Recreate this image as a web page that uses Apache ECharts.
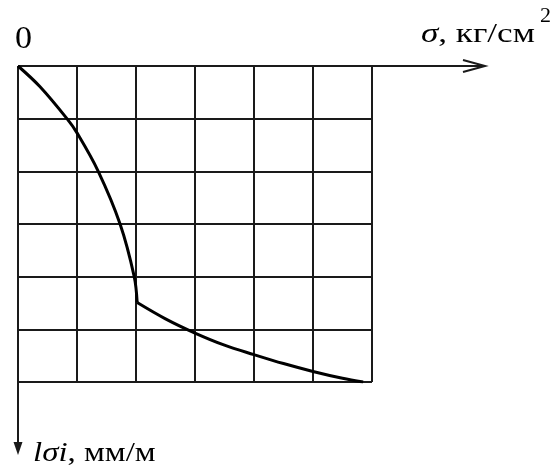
<!DOCTYPE html>
<html><head><meta charset="utf-8">
<script src="https://cdn.jsdelivr.net/npm/echarts@6/dist/echarts.min.js"></script>
<style>html,body{margin:0;padding:0;background:#fff}#c{width:555px;height:472px}</style>
</head><body><div id="c"></div>
<script>
// axis ranges (grid cells)
const xTicks = [0, 1, 2, 3, 4, 5, 6];
const yTicks = [0, 1, 2, 3, 4, 5, 6];
// upper (steep) branch of the curve
const branch1X = [0, 0.37, 0.83, 1, 1.36, 1.73, 1.97, 2.02];
const branch1Y = [0, 0.39, 1, 1.27, 2, 3, 4, 4.49];
// lower (flat) branch of the curve
const branch2X = [2.02, 2.5, 3, 3.5, 4, 4.5, 5, 5.5, 5.85];
const branch2Y = [4.49, 4.8, 5.07, 5.3, 5.48, 5.65, 5.8, 5.93, 6];
// texts
const originLabel = '0';
const xLabelSym = 'σ';
const xLabelUnit = ', кг/см';
const xLabelSup = '2';
const yLabelSym = 'lσi';
const yLabelUnit = ', мм/м';

const chart = echarts.init(document.getElementById('c'), null, {renderer: 'canvas'});
const FONT = '"Liberation Serif", "DejaVu Serif", serif';
const LINE = '#1a1a1a';

const zip = (xs, ys) => xs.map((x, i) => [x, ys[i]]);

chart.setOption({
  animation: false,
  backgroundColor: '#fff',
  grid: {left: 18, top: 66, width: 354, height: 316, show: false},
  xAxis: {
    type: 'value', position: 'top',
    min: xTicks[0], max: xTicks[xTicks.length - 1], interval: 1,
    axisLine: {show: false}, axisTick: {show: false}, axisLabel: {show: false},
    splitLine: {show: true, lineStyle: {color: LINE, width: 2}}
  },
  yAxis: {
    type: 'value', inverse: true,
    min: yTicks[0], max: yTicks[yTicks.length - 1], interval: 1,
    axisLine: {show: false}, axisTick: {show: false}, axisLabel: {show: false},
    splitLine: {show: true, lineStyle: {color: LINE, width: 2}}
  },
  series: [
    {type: 'line', data: zip(branch1X, branch1Y), smooth: 0.35, showSymbol: false,
     lineStyle: {color: '#000', width: 3}},
    {type: 'line', data: zip(branch2X, branch2Y), smooth: 0.35, showSymbol: false,
     lineStyle: {color: '#000', width: 3}}
  ]
});

const o = chart.convertToPixel({gridIndex: 0}, [xTicks[0], yTicks[0]]);
const ox = Math.round(o[0]), oy = Math.round(o[1]);
chart.setOption({
  graphic: [
    // horizontal axis with barbed arrow
    {type: 'line', shape: {x1: ox, y1: oy, x2: ox + 465, y2: oy}, style: {stroke: LINE, lineWidth: 2}},
    {type: 'polyline', shape: {points: [[ox + 445, oy - 6], [ox + 467, oy], [ox + 445, oy + 6]]},
     style: {stroke: LINE, lineWidth: 2, fill: null}},
    // vertical axis with filled arrow
    {type: 'line', shape: {x1: ox, y1: oy, x2: ox, y2: oy + 380}, style: {stroke: LINE, lineWidth: 2}},
    {type: 'polygon', shape: {points: [[ox - 4.5, oy + 376], [ox + 4.5, oy + 376], [ox, oy + 389]]},
     style: {fill: LINE}},
    // texts
    {type: 'text', x: 15, y: 24.5, scaleX: 1.1,
     style: {text: originLabel, font: '31px ' + FONT, fill: '#000'}},
    {type: 'text', x: 421, y: 21.5, scaleX: 1.3, style: {
      text: '{i|' + xLabelSym + '}' + xLabelUnit, fill: '#000', font: '27px ' + FONT,
      rich: {i: {fontStyle: 'italic', fontSize: 27, fontFamily: FONT}}
    }},
    {type: 'text', x: 540, y: 7, scaleX: 1.1,
     style: {text: xLabelSup, font: '20px ' + FONT, fill: '#000'}},
    {type: 'text', x: 33, y: 440, scaleX: 1.22, style: {
      text: '{i|' + yLabelSym + '}' + yLabelUnit, fill: '#000', font: '27px ' + FONT,
      rich: {i: {fontStyle: 'italic', fontSize: 27, fontFamily: FONT}}
    }}
  ]
});
</script>
</body></html>
